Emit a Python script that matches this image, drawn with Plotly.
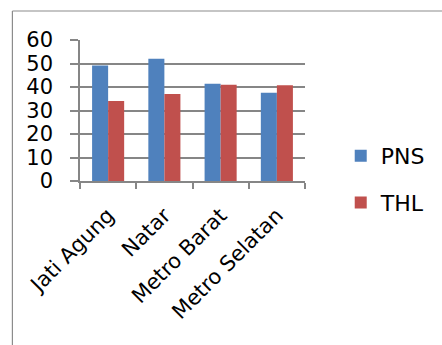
import plotly.graph_objects as go

categories = ["Jati Agung", "Natar", "Metro Barat", "Metro Selatan"]
pns = [49.1, 52.0, 41.4, 37.6]
thl = [34.0, 37.0, 41.0, 40.7]
y_ticks = [0, 10, 20, 30, 40, 50, 60]

W, H = 442, 345
L, R, T, B = 80, 129, 40, 164
pw, ph = W - L - R, H - T - B

def px_x(p):
    return (p - L) / pw

def px_y(p):
    return (H - B - p) / ph

fig = go.Figure()
fig.add_trace(go.Bar(name="PNS", x=categories, y=pns, legendgroup="pns",
                     marker=dict(color="#4F81BD", line=dict(width=0))))
fig.add_trace(go.Bar(name="THL", x=categories, y=thl, legendgroup="thl",
                     marker=dict(color="#C0504D", line=dict(width=0))))

font_family = "'DejaVu Sans', sans-serif"
grid = "#868686"

fig.update_layout(
    width=W, height=H,
    margin=dict(l=L, r=R, t=T, b=B),
    paper_bgcolor="white", plot_bgcolor="white",
    barmode="group", bargap=0.43, bargroupgap=0,
    font=dict(family=font_family, color="black", size=20),
    legend=dict(
        x=px_x(350), y=px_y(135), xanchor="left", yanchor="top",
        font=dict(size=22, family=font_family), tracegroupgap=15, itemwidth=30,
        bgcolor="rgba(0,0,0,0)",
    ),
    showlegend=True,
    shapes=[
        dict(type="line", xref="paper", yref="paper",
             x0=px_x(10), x1=px_x(10), y0=px_y(11), y1=px_y(400),
             line=dict(color="#8c8c8c", width=1.2)),
        dict(type="line", xref="paper", yref="paper",
             x0=px_x(10), x1=px_x(460), y0=px_y(11), y1=px_y(11),
             line=dict(color="#8c8c8c", width=1.2)),
    ],
)

fig.update_yaxes(
    range=[0, 60], tickvals=y_ticks, ticktext=[str(v) for v in y_ticks],
    showgrid=True, gridcolor=grid, gridwidth=1.5,
    showline=True, linecolor=grid, linewidth=1.5,
    ticks="outside", ticklen=8, tickcolor=grid, tickwidth=1.5,
    ticklabelstandoff=13,
    tickfont=dict(size=21, family=font_family), zeroline=False,
)
fig.update_xaxes(
    showline=True, linecolor=grid, linewidth=1.5,
    ticks="outside", tickson="boundaries", ticklen=6, tickcolor=grid, tickwidth=1.5,
    ticklabelstandoff=12,
    tickangle=-45, tickfont=dict(size=21, family=font_family),
)

fig.write_html("out.html")
